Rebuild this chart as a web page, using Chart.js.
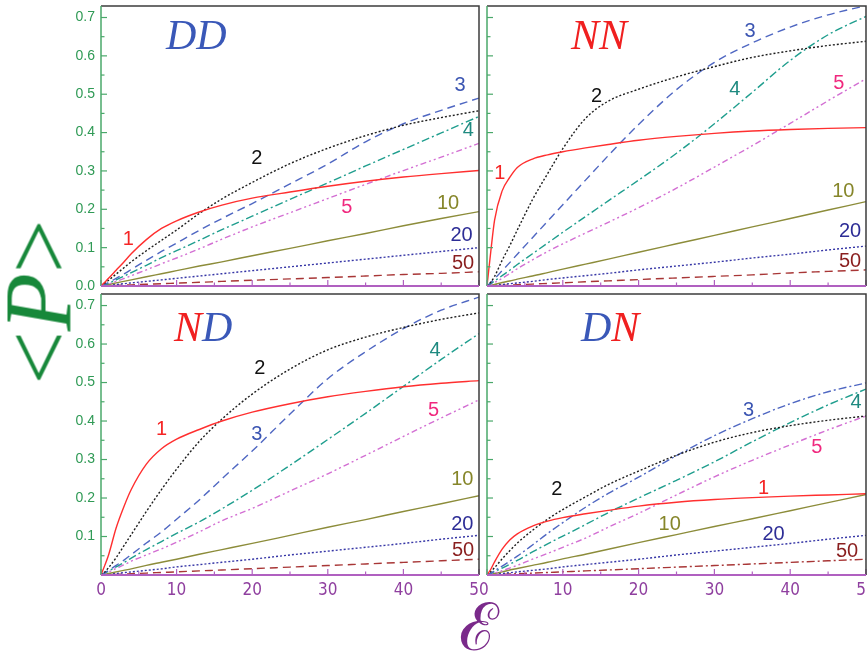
<!DOCTYPE html>
<html>
<head>
<meta charset="utf-8">
<script src="https://cdn.jsdelivr.net/npm/chart.js@4.4.1/dist/chart.umd.min.js"></script>
<style>
  html, body { margin: 0; padding: 0; background: #ffffff; }
  #wrap { position: relative; width: 867px; height: 660px; overflow: hidden; }
  #wrap canvas { position: absolute; left: 0; top: 0; }
  #ylab {
    position: absolute; left: 39px; top: 302px;
    font-family: 'Liberation Serif', 'Times New Roman', serif;
    font-size: 95px; line-height: 95px; color: #17883a; white-space: nowrap;
    transform: translate(-50%, -50%) rotate(-90deg);
  }
  #xlab {
    position: absolute; left: 479px; top: 628px;
    font-family: 'DejaVu Serif', serif;
    font-size: 66px; line-height: 66px; color: #7a2a8a; white-space: nowrap;
    transform: translate(-50%, -50%);
  }
</style>
</head>
<body>
<div id="wrap">
  <canvas id="cDD" width="867" height="660"></canvas>
  <canvas id="cNN" width="867" height="660"></canvas>
  <canvas id="cND" width="867" height="660"></canvas>
  <canvas id="cDN" width="867" height="660"></canvas>
  <div id="ylab">&lt;<i>P</i>&gt;</div>
  <div id="xlab">ℰ</div>
</div>
<script>
// ε sampling points shared by every curve
const eps = [0, 0.5, 1, 2, 3, 4, 6, 8, 10, 13, 16, 20, 25, 30, 35, 40, 45, 50];
const seriesNames = ['1', '2', '3', '4', '5', '10', '20', '50'];

// axis ticks
const yTickValues = [0, 0.1, 0.2, 0.3, 0.4, 0.5, 0.6, 0.7];
const yMinorTicks = [0.05, 0.15, 0.25, 0.35, 0.45, 0.55, 0.65];
const xTickValues = [0, 10, 20, 30, 40, 50];
const xMinorTicks = [5, 15, 25, 35, 45];
const yLabelsTop = [0, 0.1, 0.2, 0.3, 0.4, 0.5, 0.6, 0.7];
const yLabelsBottom = [0.1, 0.2, 0.3, 0.4, 0.5, 0.6, 0.7];
const xLabelsLeft = [0, 10, 20, 30, 40, 50];
const xLabelsRight = [10, 20, 30, 40, 50];

// DD
const dd1  = [0, 0.010, 0.020, 0.041, 0.062, 0.084, 0.121, 0.150, 0.170, 0.193, 0.211, 0.229, 0.245, 0.260, 0.273, 0.284, 0.293, 0.301];
const dd2  = [0, 0.007, 0.015, 0.031, 0.047, 0.063, 0.092, 0.119, 0.146, 0.189, 0.227, 0.270, 0.319, 0.359, 0.392, 0.419, 0.439, 0.457];
const dd3  = [0, 0.004, 0.009, 0.020, 0.031, 0.043, 0.067, 0.090, 0.112, 0.145, 0.176, 0.215, 0.266, 0.318, 0.376, 0.423, 0.458, 0.490];
const dd4  = [0, 0.003, 0.007, 0.016, 0.025, 0.035, 0.054, 0.074, 0.092, 0.119, 0.147, 0.182, 0.226, 0.269, 0.313, 0.356, 0.399, 0.442];
const dd5  = [0, 0.002, 0.005, 0.012, 0.019, 0.027, 0.042, 0.058, 0.073, 0.097, 0.122, 0.154, 0.191, 0.228, 0.265, 0.301, 0.336, 0.372];
const dd10 = [0, 0.002, 0.004, 0.008, 0.012, 0.016, 0.024, 0.032, 0.040, 0.052, 0.063, 0.079, 0.098, 0.118, 0.137, 0.157, 0.176, 0.194];
const dd20 = [0, 0.001, 0.002, 0.004, 0.006, 0.008, 0.012, 0.016, 0.020, 0.026, 0.032, 0.040, 0.050, 0.060, 0.070, 0.080, 0.090, 0.100];
const dd50 = [0, 0.0004, 0.0007, 0.0015, 0.0022, 0.003, 0.0044, 0.006, 0.0074, 0.0096, 0.012, 0.015, 0.0185, 0.022, 0.026, 0.030, 0.033, 0.037];

// NN
const nn1  = [0, 0.090, 0.172, 0.248, 0.283, 0.309, 0.331, 0.342, 0.350, 0.360, 0.369, 0.380, 0.390, 0.398, 0.404, 0.408, 0.411, 0.413];
const nn2  = [0, 0.010, 0.025, 0.067, 0.105, 0.146, 0.225, 0.293, 0.358, 0.437, 0.482, 0.513, 0.545, 0.572, 0.596, 0.613, 0.627, 0.638];
const nn3  = [0, 0.009, 0.019, 0.040, 0.061, 0.083, 0.126, 0.169, 0.212, 0.276, 0.340, 0.421, 0.512, 0.583, 0.634, 0.675, 0.707, 0.731];
const nn4  = [0, 0.006, 0.013, 0.027, 0.041, 0.056, 0.084, 0.112, 0.140, 0.181, 0.222, 0.276, 0.346, 0.423, 0.505, 0.588, 0.655, 0.703];
const nn5  = [0, 0.004, 0.009, 0.020, 0.032, 0.045, 0.068, 0.090, 0.110, 0.138, 0.166, 0.204, 0.255, 0.310, 0.366, 0.424, 0.483, 0.540];
const nn10 = [0, 0.002, 0.004, 0.009, 0.013, 0.018, 0.026, 0.035, 0.044, 0.057, 0.070, 0.088, 0.110, 0.132, 0.154, 0.176, 0.198, 0.220];
const nn20 = [0, 0.001, 0.002, 0.004, 0.006, 0.008, 0.012, 0.017, 0.021, 0.027, 0.033, 0.042, 0.052, 0.062, 0.073, 0.083, 0.094, 0.104];
const nn50 = [0, 0.0004, 0.0008, 0.0017, 0.0025, 0.0034, 0.005, 0.0067, 0.0084, 0.011, 0.0134, 0.0168, 0.021, 0.025, 0.029, 0.034, 0.038, 0.042];

// ND
const nd1  = [0, 0.025, 0.052, 0.122, 0.176, 0.222, 0.288, 0.328, 0.353, 0.378, 0.400, 0.423, 0.445, 0.463, 0.477, 0.489, 0.498, 0.505];
const nd2  = [0, 0.008, 0.019, 0.045, 0.075, 0.105, 0.165, 0.222, 0.275, 0.347, 0.405, 0.470, 0.535, 0.585, 0.618, 0.643, 0.664, 0.681];
const nd3  = [0, 0.006, 0.012, 0.025, 0.038, 0.053, 0.083, 0.112, 0.145, 0.195, 0.250, 0.322, 0.418, 0.510, 0.580, 0.640, 0.688, 0.722];
const nd4  = [0, 0.005, 0.010, 0.021, 0.032, 0.044, 0.066, 0.087, 0.108, 0.138, 0.172, 0.220, 0.285, 0.352, 0.420, 0.490, 0.560, 0.627];
const nd5  = [0, 0.004, 0.008, 0.017, 0.026, 0.036, 0.052, 0.068, 0.085, 0.112, 0.141, 0.173, 0.218, 0.263, 0.311, 0.360, 0.408, 0.455];
const nd10 = [0, 0.002, 0.004, 0.008, 0.012, 0.016, 0.025, 0.033, 0.041, 0.054, 0.066, 0.082, 0.103, 0.124, 0.144, 0.165, 0.185, 0.206];
const nd20 = [0, 0.001, 0.002, 0.004, 0.006, 0.008, 0.012, 0.016, 0.021, 0.027, 0.033, 0.041, 0.052, 0.062, 0.072, 0.082, 0.093, 0.103];
const nd50 = [0, 0.0004, 0.0008, 0.0016, 0.0025, 0.0033, 0.005, 0.0066, 0.0082, 0.0107, 0.013, 0.0164, 0.0205, 0.0246, 0.0287, 0.0328, 0.0369, 0.041];

// DN
const dn1  = [0, 0.015, 0.034, 0.067, 0.091, 0.107, 0.127, 0.140, 0.149, 0.159, 0.168, 0.179, 0.189, 0.196, 0.201, 0.205, 0.208, 0.211];
const dn2  = [0, 0.009, 0.019, 0.042, 0.063, 0.083, 0.116, 0.145, 0.170, 0.203, 0.235, 0.270, 0.311, 0.345, 0.370, 0.388, 0.402, 0.413];
const dn3  = [0, 0.005, 0.011, 0.023, 0.036, 0.049, 0.078, 0.108, 0.136, 0.176, 0.212, 0.254, 0.310, 0.362, 0.406, 0.445, 0.476, 0.499];
const dn4  = [0, 0.004, 0.009, 0.018, 0.028, 0.038, 0.060, 0.081, 0.101, 0.131, 0.162, 0.200, 0.246, 0.294, 0.346, 0.396, 0.442, 0.483];
const dn5  = [0, 0.002, 0.005, 0.011, 0.018, 0.025, 0.041, 0.056, 0.072, 0.096, 0.124, 0.160, 0.208, 0.255, 0.298, 0.338, 0.377, 0.413];
const dn10 = [0, 0.002, 0.004, 0.008, 0.013, 0.017, 0.025, 0.033, 0.042, 0.054, 0.067, 0.084, 0.105, 0.126, 0.146, 0.167, 0.188, 0.209];
const dn20 = [0, 0.001, 0.002, 0.004, 0.006, 0.008, 0.012, 0.016, 0.021, 0.027, 0.033, 0.041, 0.052, 0.062, 0.072, 0.082, 0.093, 0.103];
const dn50 = [0, 0.0004, 0.0008, 0.0016, 0.0025, 0.0033, 0.005, 0.0066, 0.0082, 0.0107, 0.013, 0.0164, 0.0205, 0.0246, 0.0287, 0.0328, 0.0369, 0.041];

// where each curve number is written, in (ε, <P>) units
const ddLabelAt = [[3.6, 0.12], [20.6, 0.333], [47.5, 0.522], [48.6, 0.405], [32.5, 0.205], [45.9, 0.216], [47.7, 0.133], [47.9, 0.059]];
const nnLabelAt = [[1.7, 0.294], [14.45, 0.494], [34.7, 0.664], [32.7, 0.512], [46.4, 0.529], [47.0, 0.246], [47.9, 0.142], [47.9, 0.063]];
const ndLabelAt = [[8.0, 0.379], [21.0, 0.537], [20.6, 0.366], [44.2, 0.583], [44.0, 0.427], [47.8, 0.248], [47.8, 0.13], [47.9, 0.063]];
const dnLabelAt = [[36.5, 0.226], [9.2, 0.222], [34.5, 0.427], [48.7, 0.448], [43.5, 0.331], [24.1, 0.131], [37.8, 0.104], [47.5, 0.061]];

// line styles
const DOT = [2, 2], DASH = [8, 5], DASHDOT = [8, 3, 2, 3], DASHDOTDOT = [6, 3, 2, 3, 2, 3];
const lineColors  = ['#ff2f2f', '#1e1e1e', '#4f67c2', '#1f9e8e', '#d36fd3', '#8c8c3a', '#3636a6', '#a83636'];
const labelColors = ['#f52525', '#111111', '#3b55b2', '#1f8a80', '#f0287e', '#86862a', '#2d2d96', '#8a1f1f'];
const lineDashes  = [[], DOT, DASH, DASHDOT, DASHDOTDOT, [], DOT, DASH];
const dnDashes    = [[], DOT, DASHDOT, DASHDOT, DASHDOTDOT, [], DOT, DASHDOT];

const RED = '#f02020', BLUE = '#3a58b8';
const AXIS_GREEN = '#4aa86a', TICK_GREEN = '#2f9a55';
const AXIS_PURPLE = '#b060c0', TICK_PURPLE = '#8f3f9f';

const panelPlugin = {
  id: 'panel',
  afterDatasetsDraw(chart, args, o) {
    const { ctx, chartArea: a, scales: { x, y } } = chart;
    ctx.save();
    // inward tick marks
    ctx.lineWidth = 1.2;
    ctx.strokeStyle = AXIS_GREEN;
    const hl = (x0, x1, py) => { ctx.beginPath(); ctx.moveTo(x0, py); ctx.lineTo(x1, py); ctx.stroke(); };
    const vl = (px, y0, y1) => { ctx.beginPath(); ctx.moveTo(px, y0); ctx.lineTo(px, y1); ctx.stroke(); };
    yTickValues.forEach(v => hl(a.left, a.left + 6, y.getPixelForValue(v)));
    yMinorTicks.forEach(v => hl(a.left, a.left + 3.5, y.getPixelForValue(v)));
    ctx.strokeStyle = AXIS_PURPLE;
    xTickValues.forEach(v => vl(x.getPixelForValue(v), a.bottom, a.bottom - 6));
    xMinorTicks.forEach(v => vl(x.getPixelForValue(v), a.bottom, a.bottom - 3.5));

    // frame
    ctx.lineWidth = 1.5;
    ctx.strokeStyle = '#3c3c3c';
    ctx.beginPath();
    ctx.moveTo(a.left, a.top); ctx.lineTo(a.right, a.top); ctx.lineTo(a.right, a.bottom);
    ctx.stroke();
    ctx.strokeStyle = AXIS_GREEN;
    vl(a.left, a.top, a.bottom);
    ctx.lineWidth = 2;
    ctx.strokeStyle = AXIS_PURPLE;
    hl(a.left, a.right, a.bottom);

    // curve numbers
    ctx.font = "20px 'Liberation Sans', Arial, sans-serif";
    ctx.textAlign = 'center';
    ctx.textBaseline = 'middle';
    o.labelAt.forEach((p, i) => {
      ctx.fillStyle = labelColors[i];
      ctx.fillText(seriesNames[i], x.getPixelForValue(p[0]), y.getPixelForValue(p[1]));
    });

    // panel name
    ctx.font = "italic 42px 'Liberation Serif', 'Times New Roman', serif";
    ctx.textAlign = 'left';
    ctx.textBaseline = 'alphabetic';
    let tx = a.left + o.titleDx;
    const ty = a.top + o.titleDy;
    o.title.forEach(part => {
      ctx.fillStyle = part.c;
      ctx.fillText(part.t, tx, ty);
      tx += ctx.measureText(part.t).width;
    });
    ctx.restore();
  }
};

function makePanel(id, cfg) {
  const series = cfg.series;
  const datasets = series.map((vals, i) => ({
    label: seriesNames[i],
    data: eps.map((e, k) => ({ x: e, y: vals[k] })),
    borderColor: lineColors[i],
    borderDash: cfg.dashes[i],
    borderWidth: 1.4,
    pointRadius: 0,
    fill: false,
    cubicInterpolationMode: 'monotone'
  }));
  const yW = cfg.yLabels ? 40 : 0;
  const xH = cfg.xLabels ? 30 : 0;
  return new Chart(document.getElementById(id), {
    type: 'line',
    data: { datasets },
    options: {
      responsive: false,
      animation: false,
      events: [],
      layout: {
        autoPadding: false,
        padding: { left: cfg.area.l - yW, right: 867 - cfg.area.r, top: cfg.area.t, bottom: 660 - cfg.area.b - xH }
      },
      plugins: {
        legend: { display: false },
        tooltip: { enabled: false },
        panel: { labelAt: cfg.labelAt, title: cfg.title, titleDx: cfg.titleDx, titleDy: cfg.titleDy }
      },
      scales: {
        x: {
          type: 'linear', min: 0, max: 50,
          grid: { display: false, drawTicks: false },
          border: { display: false },
          ticks: {
            display: !!cfg.xLabels,
            color: TICK_PURPLE,
            padding: 5,
            font: { family: "'Liberation Sans Narrow', 'DejaVu Sans Condensed', 'Liberation Sans', sans-serif", size: 17 },
            maxRotation: 0, autoSkip: false,
            callback: v => String(v)
          },
          afterBuildTicks: s => { s.ticks = (cfg.xLabels || xTickValues).map(v => ({ value: v })); },
          afterFit: s => { s.height = xH; s.paddingLeft = 0; s.paddingRight = 0; s.paddingTop = 0; s.paddingBottom = 0; }
        },
        y: {
          type: 'linear', min: 0, max: 0.73,
          grid: { display: false, drawTicks: false },
          border: { display: false },
          ticks: {
            display: !!cfg.yLabels,
            color: TICK_GREEN,
            padding: 6,
            font: { family: "'Liberation Sans', Arial, sans-serif", size: 14 },
            autoSkip: false,
            callback: v => v.toFixed(1)
          },
          afterBuildTicks: s => { s.ticks = (cfg.yLabels || yTickValues).map(v => ({ value: v })); },
          afterFit: s => { s.width = yW; s.paddingLeft = 0; s.paddingRight = 0; s.paddingTop = 0; s.paddingBottom = 0; }
        }
      }
    },
    plugins: [panelPlugin]
  });
}

makePanel('cDD', {
  series: [dd1, dd2, dd3, dd4, dd5, dd10, dd20, dd50], dashes: lineDashes,
  area: { l: 101, r: 479, t: 6, b: 286 }, yLabels: yLabelsTop, xLabels: null,
  labelAt: ddLabelAt, title: [{ t: 'DD', c: BLUE }], titleDx: 65, titleDy: 43
});
makePanel('cNN', {
  series: [nn1, nn2, nn3, nn4, nn5, nn10, nn20, nn50], dashes: lineDashes,
  area: { l: 487, r: 866, t: 6, b: 286 }, yLabels: null, xLabels: null,
  labelAt: nnLabelAt, title: [{ t: 'NN', c: RED }], titleDx: 84, titleDy: 43
});
makePanel('cND', {
  series: [nd1, nd2, nd3, nd4, nd5, nd10, nd20, nd50], dashes: lineDashes,
  area: { l: 101, r: 479, t: 294, b: 575 }, yLabels: yLabelsBottom, xLabels: xLabelsLeft,
  labelAt: ndLabelAt, title: [{ t: 'N', c: RED }, { t: 'D', c: BLUE }], titleDx: 73, titleDy: 47
});
makePanel('cDN', {
  series: [dn1, dn2, dn3, dn4, dn5, dn10, dn20, dn50], dashes: dnDashes,
  area: { l: 487, r: 866, t: 294, b: 575 }, yLabels: null, xLabels: xLabelsRight,
  labelAt: dnLabelAt, title: [{ t: 'D', c: BLUE }, { t: 'N', c: RED }], titleDx: 94, titleDy: 47
});
</script>
</body>
</html>
